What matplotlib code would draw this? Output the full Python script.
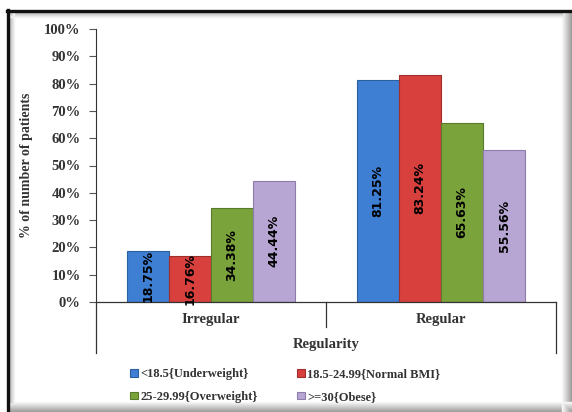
import numpy as np
import matplotlib.pyplot as plt
from matplotlib.lines import Line2D

groups = ['Irregular', 'Regular']
series = ['<18.5{Underweight}', '18.5-24.99{Normal BMI}',
          '25-29.99{Overweight}', '>=30{Obese}']
values = [
    [18.75, 81.25],
    [16.76, 83.24],
    [34.38, 65.63],
    [44.44, 55.56],
]
colors = ['#3f7fd3', '#d7403d', '#7aa33c', '#b7a5d3']
edges = ['#2c5f9e', '#a02e2b', '#587a2a', '#8e7cab']

serif = 'Liberation Serif'
W, H = 572, 412

fig = plt.figure(figsize=(W / 100, H / 100), dpi=100)
ax = fig.add_axes([96 / W, 1 - 302 / H, 460 / W, 273 / H])

x = np.arange(len(groups))
w = 0.183
handles = []
for i, (vals, c, ec) in enumerate(zip(values, colors, edges)):
    pos = x + (i - 1.5) * w
    bars = ax.bar(pos, vals, w, color=c, edgecolor=ec, linewidth=0.8,
                  label=series[i], zorder=2)
    handles.append(bars)
    for b, v in zip(bars, vals):
        ax.text(b.get_x() + b.get_width() / 2, v / 2, '%.2f%%' % v,
                rotation=90, ha='center', va='center', fontsize=9,
                fontweight='bold', family='DejaVu Sans', color='black',
                zorder=3)

ax.set_xlim(-0.5, 1.5)
ax.set_ylim(0, 100)
ax.set_yticks(np.arange(0, 101, 10))
ax.set_yticklabels(['%d%%' % t for t in range(0, 101, 10)],
                   family=serif, fontweight='bold', fontsize=10.5,
                   color='#333333')
ax.tick_params(axis='y', length=5, width=0.8, color='#555555', pad=6)
ax.set_xticks(x)
ax.set_xticklabels(groups, family=serif, fontweight='bold', fontsize=10.5,
                   color='#333333')
ax.tick_params(axis='x', length=0, pad=8)

for s in ['top', 'right', 'bottom']:
    ax.spines[s].set_visible(False)
ax.spines['left'].set_color('#333333')
ax.spines['left'].set_bounds(0, 100)

# multi-level category axis lines
ln = dict(transform=ax.transAxes, color='#333333', lw=0.9, clip_on=False)
ax.plot([0, 1], [0, 0], **ln)
ax.plot([0, 0], [0, -0.187], **ln)
ax.plot([0.5, 0.5], [0, -0.092], **ln)
ax.plot([1, 1], [0, -0.187], **ln)

ax.text(0.5, -0.155, 'Regularity', transform=ax.transAxes, ha='center',
        va='center', family=serif, fontweight='bold', fontsize=10.5,
        color='#333333')
ax.set_ylabel('% of number of patients', family=serif, fontweight='bold',
              fontsize=10, color='#333333', labelpad=8)

# row-major legend order
order = [0, 2, 1, 3]
leg = fig.legend([handles[k] for k in order], [series[k] for k in order],
                 loc='upper left', bbox_to_anchor=(124 / W, 1 - 362 / H),
                 ncol=2, frameon=False, handlelength=0.6, handleheight=0.6,
                 handletextpad=0.2, columnspacing=3.15, labelspacing=0.85,
                 borderpad=0,
                 prop={'family': serif, 'weight': 'bold', 'size': 9.0})
for t in leg.get_texts():
    t.set_color('#333333')


def px_line(xs, ys, **kw):
    fig.add_artist(Line2D([v / W for v in xs], [1 - v / H for v in ys],
                          transform=fig.transFigure, **kw))


# frame: dark top/left edge, soft grey shadow on right/bottom
for k in range(10):
    g = str(0.62 + 0.038 * k)
    px_line([W - 1 - k, W - 1 - k], [12, H], color=g, lw=1)
    px_line([9, W], [H - 1 - k, H - 1 - k], color=g, lw=1)
for k in range(5):
    g = str(0.75 + 0.05 * k)
    px_line([10, W - 10], [13 + k, 13 + k], color=g, lw=1)
    px_line([10 + k, 10 + k], [13, H - 10], color=g, lw=1)
px_line([7, W], [11, 11], color='#111111', lw=2.4)
px_line([8, 8], [10, H], color='#111111', lw=2.4)

fig.savefig('out.png', dpi=100)
